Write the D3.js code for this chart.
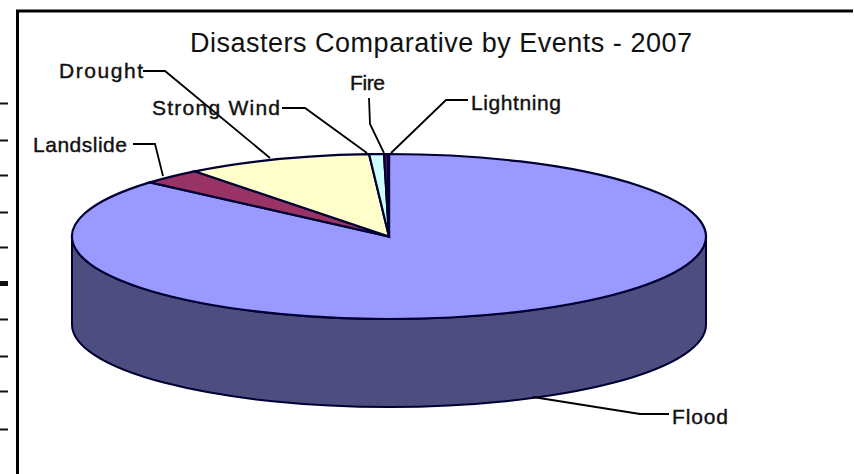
<!DOCTYPE html>
<html>
<head>
<meta charset="utf-8">
<script src="https://cdn.jsdelivr.net/npm/d3@7"></script>
<style>
html, body { margin: 0; padding: 0; background: #fff; }
svg { display: block; }
text { font-family: "Liberation Sans", Arial, sans-serif; fill: #111; }
</style>
</head>
<body>
<svg id="chart" width="854" height="474"></svg>
<script>
const chartTitle = "Disasters Comparative by Events - 2007";
const events = ["Flood", "Landslide", "Drought", "Strong Wind", "Fire", "Lightning"];
const shares = [86.4, 3.1, 9.5, 0.75, 0.2, 0.05];
const sliceColors = ["#9999ff", "#993366", "#ffffcc", "#ccffff", "#660066", "#000066"];
const floodSide = "#4d4d80";
const strayTicks = [103, 140, 175, 212, 247, 283, 319, 356, 391, 429];

const svg = d3.select("#chart");

const cx = 389, cy = 236.5, rx = 317, ry = 82.5, depth = 88;
const outline = "#000033";

//frame of the chart area, runs off the right and bottom of the crop
svg.append("path")
    .attr("d", "M17.5,860V11H853")
    .attr("fill", "none")
    .attr("stroke", "#000")
    .attr("stroke-width", 3);

//cut off axis ticks left of the frame
const leftAxis = d3.axisLeft(d3.scaleLinear().domain([0, 1000]).range([0, 1000]))
    .tickValues(strayTicks)
    .tickSize(8)
    .tickFormat("");
const axisG = svg.append("g")
    .attr("transform", "translate(8,0)")
    .call(leftAxis);
axisG.select(".domain").remove();
axisG.selectAll("line")
    .attr("stroke", "#111")
    .attr("stroke-width", d => d === 283 ? 5 : 2);

//side wall of the disc
svg.append("path")
    .attr("d", `M${cx - rx},${cy} A${rx},${ry} 0 0 0 ${cx + rx},${cy} V${cy + depth} A${rx},${ry} 0 0 1 ${cx - rx},${cy + depth} Z`)
    .attr("fill", floodSide)
    .attr("stroke", outline)
    .attr("stroke-width", 2);

//top face, circle pie squashed to an ellipse
const pie = d3.pie().sort(null).startAngle(0).endAngle(2 * Math.PI);
const arcs = pie(shares);
const arc = d3.arc().innerRadius(0).outerRadius(rx);

svg.append("g")
    .attr("transform", `translate(${cx},${cy}) scale(1,${ry / rx})`)
    .selectAll("path")
    .data(arcs)
    .enter()
    .append("path")
    .attr("d", arc)
    .attr("fill", (d, i) => sliceColors[i])
    .attr("stroke", outline)
    .attr("stroke-width", 2.2)
    .attr("vector-effect", "non-scaling-stroke");

//title
svg.append("text")
    .attr("x", 190)
    .attr("y", 52)
    .attr("textLength", 502)
    .style("font-size", "27px")
    .text(chartTitle);

//labels with leader lines
const labelRows = [
    { name: "Drought", x: 59, y: 78, w: 84, pts: [[143, 71], [165, 71], [270, 158]] },
    { name: "Strong Wind", x: 152, y: 115, w: 128, pts: [[282, 108], [305, 108], [367, 153]] },
    { name: "Landslide", x: 33, y: 152, w: 94, pts: [[133, 144], [155, 144], [163, 176]] },
    { name: "Fire", x: 350, y: 90, w: 35, pts: [[369, 98], [370, 124], [384, 153]] },
    { name: "Lightning", x: 471, y: 110, w: 90, pts: [[468, 100], [446, 100], [391, 153]] },
    { name: "Flood", x: 672, y: 424, w: 56, pts: [[669, 414], [640, 414], [533, 397]] }
];

const leader = d3.line();

svg.append("g")
    .selectAll("path")
    .data(labelRows)
    .enter()
    .append("path")
    .attr("d", d => leader(d.pts))
    .attr("fill", "none")
    .attr("stroke", "#000")
    .attr("stroke-width", 1.8);

svg.append("g")
    .selectAll("text")
    .data(labelRows)
    .enter()
    .append("text")
    .attr("x", d => d.x)
    .attr("y", d => d.y)
    .attr("textLength", d => d.w)
    .style("font-size", "21px")
    .style("stroke", "#111")
    .style("stroke-width", 0.4)
    .text(d => d.name);
</script>
</body>
</html>
